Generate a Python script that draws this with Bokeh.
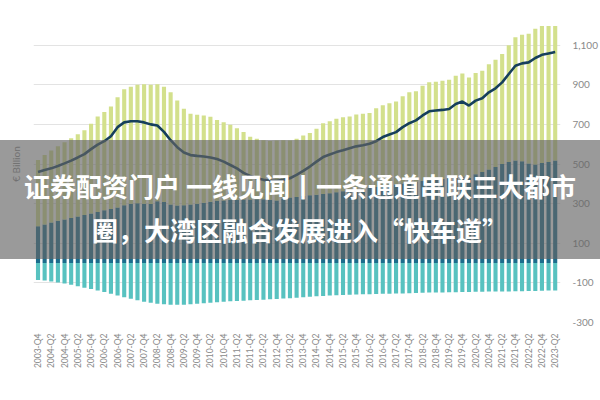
from math import pi
from bokeh.plotting import figure
from bokeh.models import (ColumnDataSource, Range1d, FixedTicker, NumeralTickFormatter,
                          Legend, LegendItem, LinearAxis, Div)
from bokeh.layouts import column
from bokeh.embed import file_html
from bokeh.resources import INLINE

# quarters 2003-Q4 .. 2023-Q2
quarters = ["2003-Q4"] + [f"{y}-Q{q}" for y in range(2004, 2023) for q in range(1, 5)] + ["2023-Q1", "2023-Q2"]

financial_assets = [186, 195, 205, 213, 220, 228, 235, 242, 250, 258, 266, 273, 280, 292, 300, 302,
                    300, 298, 312, 308, 295, 290, 292, 296, 300, 305, 310, 314, 316, 318, 320, 321,
                    321, 322, 322, 320, 316, 325, 331, 334, 338, 342, 345, 348, 352, 357, 362, 366,
                    371, 375, 379, 384, 389, 393, 397, 401, 405, 410, 414, 418, 420, 424, 428, 433,
                    437, 430, 448, 460, 472, 485, 500, 510, 518, 514, 502, 498, 505, 510, 518]
housing_assets = [334, 350, 363, 377, 390, 402, 415, 428, 453, 482, 496, 517, 557, 585, 590, 598,
                  603, 602, 591, 582, 567, 530, 487, 458, 448, 440, 428, 408, 395, 380, 360, 340,
                  317, 306, 298, 296, 302, 295, 287, 294, 306, 314, 333, 358, 364, 371, 374, 374,
                  379, 378, 379, 397, 407, 414, 418, 441, 457, 457, 481, 494, 495, 496, 497, 513,
                  520, 507, 511, 511, 532, 541, 555, 590, 622, 638, 656, 685, 692, 687, 679]
financial_liabilities = [-85, -88, -93, -98, -103, -110, -117, -124, -131, -138, -146, -155, -164, -172, -180, -188,
                         -195, -200, -205, -208, -210, -210, -210, -208, -205, -203, -200, -198, -195, -193, -192, -190,
                         -188, -187, -185, -183, -181, -179, -177, -175, -173, -170, -168, -166, -164, -162, -161, -160,
                         -159, -158, -157, -156, -155, -155, -154, -153, -152, -151, -150, -149, -148, -148, -147, -147,
                         -146, -146, -145, -145, -144, -144, -143, -143, -142, -142, -141, -141, -140, -139, -138]
total_net_wealth = [460, 470, 478, 490, 503, 517, 533, 550, 575, 598, 615, 640, 686, 710, 716, 716,
                    710, 700, 694, 662, 620, 585, 558, 545, 541, 538, 533, 525, 512, 495, 478, 455,
                    440, 428, 420, 416, 415, 420, 428, 445, 465, 487, 512, 535, 548, 560, 569, 580,
                    589, 595, 602, 615, 636, 649, 661, 686, 706, 720, 745, 766, 770, 773, 778, 803,
                    815, 795, 820, 832, 862, 882, 912, 954, 996, 1008, 1013, 1035, 1051, 1058, 1065]
y_ticks = [-300, -100, 100, 300, 500, 700, 900, 1100]
banner_lines = ["证券配资门户 一线见闻丨一条通道串联三大都市", "圈，大湾区融合发展进入“快车道”"]

C_FA = "#1b6d8c"
C_FL = "#58c2c0"
C_HA = "#d3e08c"
C_NW = "#163f5c"
FONT = "Lato"

idx = list(range(len(quarters)))
src = ColumnDataSource(dict(x=idx, fa=financial_assets, ha=housing_assets,
                            fl=financial_liabilities, nw=total_net_wealth,
                            zero=[0] * len(idx)))

p = figure(width=600, height=400, output_backend="svg", toolbar_location=None,
           x_range=Range1d(-0.68, 78.8), y_range=Range1d(-300, 1300),
           y_axis_location="right", min_border_left=33, min_border_right=38,
           min_border_top=5, min_border_bottom=78)
p.outline_line_color = None
p.background_fill_color = "white"

stk = p.vbar_stack(["fa", "ha"], x="x", width=0.62, source=src, color=[C_FA, C_HA], line_color=None)
fl = p.vbar(x="x", top="zero", bottom="fl", width=0.62, source=src, color=C_FL, line_color=None)
ln = p.line(x="x", y="nw", source=src, line_color=C_NW, line_width=2.6)

# axes
p.xgrid.visible = False
p.ygrid.ticker = FixedTicker(ticks=y_ticks)
p.ygrid.grid_line_color = "#e3e3e3"
p.ygrid.grid_line_width = 1

ya = p.yaxis[0]
ya.ticker = FixedTicker(ticks=y_ticks)
ya.formatter = NumeralTickFormatter(format="0,0")
ya.axis_line_color = None
ya.major_tick_line_color = None
ya.minor_tick_line_color = None
ya.major_label_text_font = FONT
ya.major_label_text_font_size = "10px"
ya.major_label_text_color = "#8a8a8a"
ya.major_label_standoff = 6

# left axis only carrying the unit label
la = LinearAxis(ticker=FixedTicker(ticks=[]), axis_label="€ Billion",
                axis_line_color=None, major_tick_line_color=None, minor_tick_line_color=None,
                major_label_text_font_size="0px", axis_label_standoff=12,
                axis_label_text_font=FONT, axis_label_text_font_size="10px",
                axis_label_text_font_style="normal", axis_label_text_color="#8a8a8a")
p.add_layout(la, "left")

xa = p.xaxis[0]
even = idx[::2]
xa.ticker = FixedTicker(ticks=even)
xa.major_label_overrides = {i: quarters[i] for i in even}
xa.major_label_orientation = pi / 2
xa.axis_line_color = None
xa.major_tick_line_color = None
xa.minor_tick_line_color = None
xa.major_label_text_font = FONT
xa.major_label_text_font_size = "8.5px"
xa.major_label_text_color = "#8a8a8a"
xa.major_label_standoff = 5

legend = Legend(items=[
    LegendItem(label="Financial Assets", renderers=[stk[0]]),
    LegendItem(label="Financial Liabilities", renderers=[fl]),
    LegendItem(label="Housing Assets", renderers=[stk[1]]),
    LegendItem(label="Total Net Wealth", renderers=[ln]),
], orientation="horizontal", location=(16, -73))
legend.label_text_font = FONT
legend.label_text_font_size = "13px"
legend.label_text_color = "#555555"
legend.glyph_width = 17
legend.glyph_height = 6
legend.label_standoff = 1
legend.spacing = 19
legend.padding = 4
legend.margin = 0
legend.border_line_color = None
legend.background_fill_alpha = 0
p.add_layout(legend, "center")

# overlay banner across the whole picture
banner = Div(
    text=("<div style=\"width:600px;height:119px;padding-top:24px;box-sizing:border-box;"
          "text-align:center;color:#ffffff;font-family:'Noto Sans CJK SC';font-weight:bold;"
          "font-size:26px;line-height:44px;white-space:nowrap;\">"
          + banner_lines[0] + "<br>" + banner_lines[1] + "</div>"),
    width=600, height=119,
    styles={"position": "absolute", "left": "0px", "top": "140px", "z-index": "10",
            "background-color": "rgba(100,100,100,0.65)", "overflow": "hidden",
            "margin": "0px", "padding": "0px"})

layout = column(p, banner)
open("out.html", "w").write(file_html(layout, INLINE))
